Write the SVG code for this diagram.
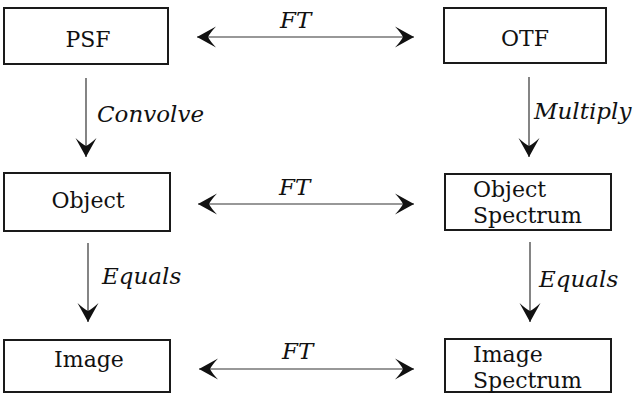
<svg xmlns="http://www.w3.org/2000/svg" width="637" height="394" viewBox="0 0 637 394">
<style>
.box{fill:#fff;stroke:#1a1a1a;stroke-width:2}
.t{font-family:"DejaVu Serif","Liberation Serif",serif;font-size:22px;fill:#111}
.lbl{font-family:"DejaVu Serif","Liberation Serif",serif;font-size:23px;font-style:italic;fill:#111}
.c{stroke:#333;stroke-width:1.2;fill:none}
.h{marker-start:url(#ah);marker-end:url(#ah)}
.v{marker-end:url(#ah)}
</style>
<defs>
<marker id="ah" markerUnits="userSpaceOnUse" viewBox="-20 -11 22 22" refX="0" refY="0" markerWidth="22" markerHeight="22" orient="auto-start-reverse">
<path d="M0,0 L-19,-10.5 Q-13,-4 -11,0 Q-13,4 -19,10.5 Z" fill="#111"/>
</marker>
</defs>
<rect width="637" height="394" fill="#fff"/>
<g id="connectors">
<line class="c h" x1="197" y1="37" x2="414" y2="37"/>
<line class="c h" x1="198" y1="204" x2="414" y2="204"/>
<line class="c h" x1="199" y1="369" x2="414" y2="369"/>
<line class="c v" x1="86" y1="78" x2="86" y2="157"/>
<line class="c v" x1="88" y1="243" x2="88" y2="322"/>
<line class="c v" x1="529" y1="77" x2="529" y2="157"/>
<line class="c v" x1="530" y1="242" x2="530" y2="322"/>
<text class="lbl" x="280" y="28">FT</text>
<text class="lbl" x="279" y="195">FT</text>
<text class="lbl" x="282" y="359">FT</text>
<text class="lbl" x="97" y="122">Convolve</text>
<text class="lbl" x="534" y="119">Multiply</text>
<text class="lbl" x="102" y="284">Equals</text>
<text class="lbl" x="539" y="287">Equals</text>
</g>
<g id="psf">
<rect class="box" x="4" y="8" width="164" height="56"/>
<text class="t" x="88" y="47" text-anchor="middle">PSF</text>
</g>
<g id="otf">
<rect class="box" x="444" y="8" width="162" height="55"/>
<text class="t" x="525" y="46" text-anchor="middle">OTF</text>
</g>
<g id="object">
<rect class="box" x="4" y="173" width="166" height="58"/>
<text class="t" x="88" y="208" text-anchor="middle">Object</text>
</g>
<g id="object-spectrum">
<rect class="box" x="445" y="174" width="166" height="56"/>
<text class="t" x="473" y="197">Object</text>
<text class="t" x="473" y="223">Spectrum</text>
</g>
<g id="image">
<rect class="box" x="4" y="340" width="166" height="52"/>
<text class="t" x="89" y="367" text-anchor="middle">Image</text>
</g>
<g id="image-spectrum">
<rect class="box" x="445" y="339" width="166" height="53"/>
<text class="t" x="473" y="362">Image</text>
<text class="t" x="473" y="388">Spectrum</text>
</g>
</svg>
